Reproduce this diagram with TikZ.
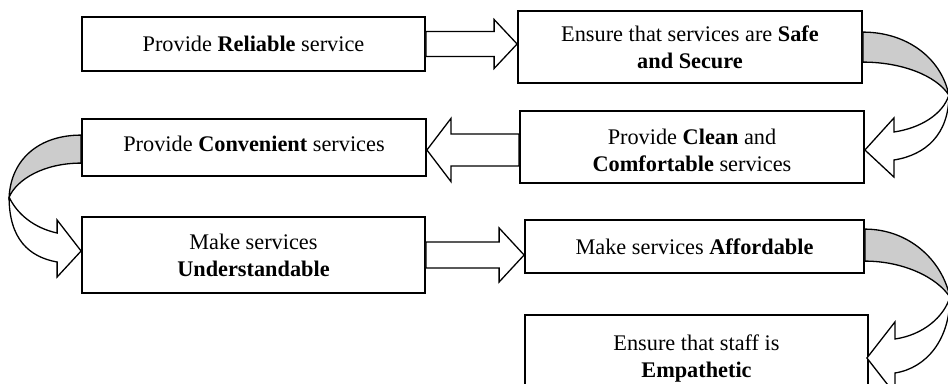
\documentclass[tikz,border=0pt]{standalone}
\usepackage{fontspec}
\setmainfont{Liberation Serif}
\usetikzlibrary{calc}
\definecolor{backgray}{RGB}{204,204,204}

\begin{document}
\begin{tikzpicture}[x=1pt,y=-1pt,
      box/.style={
            rectangle, draw, line width=1.8pt,
            align=center, inner sep=4pt,
            font=\fontsize{22.3pt}{27pt}\selectfont
        },
      block/.style={
            draw, fill=white, line width=1.3pt, line join=miter
        },
      back/.style={
            draw, fill=backgray, line width=1.3pt
        }
      ]
    \useasboundingbox (0,0) rectangle (948,383);
    \clip (0,0) rectangle (948,383);

    \node[box, minimum width=343pt, minimum height=54pt] (A) at (253.5,44) {Provide \textbf{Reliable} service};
    \node[box, minimum width=344pt, minimum height=72pt] (B) at (690,47) {Ensure that services are \textbf{Safe}\\ \textbf{and Secure}};
    \node[box, minimum width=344pt, minimum height=72pt, text height=50pt] (C) at (692,147) {Provide \textbf{Clean} and\\ \textbf{Comfortable} services};
    \node[box, minimum width=344pt, minimum height=57pt, text depth=8pt] (D) at (254,147.5) {Provide \textbf{Convenient} services};
    \node[box, minimum width=343pt, minimum height=76pt] (E) at (253.5,255) {Make services\\ \textbf{Understandable}};
    \node[box, minimum width=339pt, minimum height=53pt] (F) at (694.5,246.5) {Make services \textbf{Affordable}};
    \node[box, minimum width=343pt, minimum height=82pt, text height=47.5pt] (G) at (696.5,356) {Ensure that staff is\\ \textbf{Empathetic}};

    % straight block arrows
    \draw[block] let \p1 = (A.east), \p2 = (B.west) in
    (\x1,\y1+12.5) -- (\x2-23,\y1+12.5) -- (\x2-23,\y1+24.5) -- (\x2,\y1)
    -- (\x2-23,\y1-24.5) -- (\x2-23,\y1-12.5) -- (\x1,\y1-12.5) -- cycle;

    \draw[block] let \p1 = (C.west), \p2 = (D.east) in
    (\x1,\y1+13) -- (\x2+24,\y1+13) -- (\x2+24,\y1+28.5) -- (\x2,\y1-3)
    -- (\x2+24,\y1-34.5) -- (\x2+24,\y1-19) -- (\x1,\y1-19) -- cycle;

    \draw[block] let \p1 = (E.east), \p2 = (F.west) in
    (\x1,\y1+13) -- (\x2-25,\y1+13) -- (\x2-25,\y1+27) -- (\x2,\y1)
    -- (\x2-25,\y1-27) -- (\x2-25,\y1-13) -- (\x1,\y1-13) -- cycle;

    % curved arrows
    \coordinate (R1) at ($(B.north east)+(86,85)$);
    \coordinate (L1) at ($(D.north west)+(-72,79)$);
    \coordinate (R2) at ($(F.north east)+(85,78)$);

    \draw[back] ($(B.north east)+(0,22)$) .. controls +(43,0) and +(-8,-38) .. (R1)
    .. controls +(-13,-20) and +(38,0) .. ($(B.north east)+(0,52)$) -- cycle;
    \draw[block] (R1) .. controls +(-6,19) and +(27,-4) .. ($(C.east)+(29,-15)$)
    -- ($(C.east)+(29,-29)$) -- ($(C.east)+(0,3)$) -- ($(C.east)+(29,30)$)
    -- ($(C.east)+(29,13)$) .. controls +(32,-5) and +(0,39) .. (R1);

    \draw[back] ($(D.north west)+(0,17)$) .. controls +(-42,0) and +(2,-38) .. (L1)
    .. controls +(8,-18) and +(-37,0) .. ($(D.north west)+(0,45)$) -- cycle;
    \draw[block] (L1) .. controls +(8,17) and +(-23,-5) .. ($(E.west)+(-24,-22)$)
    -- ($(E.west)+(-24,-35)$) -- ($(E.west)+(0,-4)$) -- ($(E.west)+(-24,22)$)
    -- ($(E.west)+(-24,7)$) .. controls +(-28,-5) and +(0,42) .. (L1);

    \draw[back] ($(F.north east)+(0,10)$) .. controls +(43,0) and +(-8,-38) .. (R2)
    .. controls +(-13,-20) and +(38,0) .. ($(F.north east)+(0,42)$) -- cycle;
    \draw[block] (R2) .. controls +(-6,20) and +(28,-4) .. ($(G.east)+(26,-17)$)
    -- ($(G.east)+(26,-34)$) -- ($(G.east)+(-2,2)$) -- ($(G.east)+(26,38)$)
    -- ($(G.east)+(26,17)$) .. controls +(32,-5) and +(0,42) .. (R2);
  \end{tikzpicture}
\end{document}
